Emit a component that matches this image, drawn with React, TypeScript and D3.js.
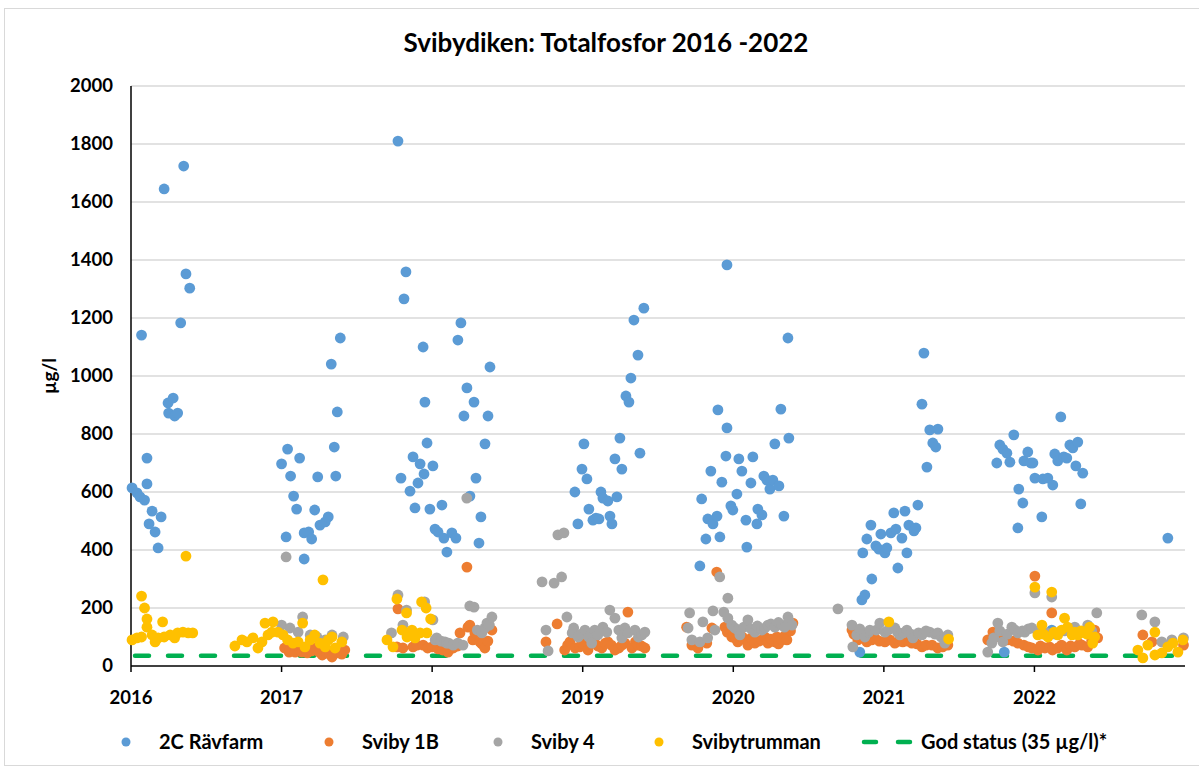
import * as d3 from "d3";

type Pt = [number, number];

const years = [2016, 2017, 2018, 2019, 2020, 2021, 2022];
const yTicks = [0, 200, 400, 600, 800, 1000, 1200, 1400, 1600, 1800, 2000];
const godStatus = 35;

// [decimal year, µg/l]
const ravfarm: Pt[] = [
  [2016.007, 614], [2016.04, 597], [2016.06, 583], [2016.07, 1141], [2016.09, 572], [2016.106, 717],
  [2016.106, 628], [2016.12, 490], [2016.14, 534], [2016.16, 462], [2016.18, 407], [2016.2, 514],
  [2016.22, 1645], [2016.246, 907], [2016.25, 872], [2016.28, 924], [2016.29, 862], [2016.31, 872],
  [2016.33, 1183], [2016.35, 1724], [2016.365, 1352], [2016.39, 1303],
  [2017.0, 697], [2017.03, 445], [2017.04, 748], [2017.06, 655], [2017.08, 586], [2017.1, 541],
  [2017.12, 717], [2017.15, 459], [2017.15, 369], [2017.18, 462], [2017.2, 438], [2017.22, 538],
  [2017.24, 652], [2017.255, 486], [2017.29, 497], [2017.31, 514], [2017.33, 1041], [2017.35, 755],
  [2017.36, 655], [2017.37, 876], [2017.39, 1131],
  [2017.773, 1810], [2017.793, 648], [2017.813, 1266], [2017.826, 1359], [2017.853, 603], [2017.873, 721],
  [2017.886, 545], [2017.906, 631], [2017.92, 697], [2017.94, 1100], [2017.946, 662], [2017.952, 910],
  [2017.966, 769], [2017.985, 541], [2018.005, 690], [2018.019, 472], [2018.039, 462], [2018.065, 555],
  [2018.078, 441], [2018.098, 393], [2018.131, 459], [2018.158, 441], [2018.171, 1124], [2018.191, 1183],
  [2018.211, 862], [2018.231, 959], [2018.251, 586], [2018.278, 910], [2018.291, 648], [2018.311, 424],
  [2018.324, 514], [2018.351, 766], [2018.371, 862], [2018.384, 1031],
  [2018.948, 600], [2018.968, 490], [2018.995, 679], [2019.008, 766], [2019.028, 645], [2019.041, 541],
  [2019.068, 503], [2019.088, 510], [2019.108, 507], [2019.121, 600], [2019.134, 579], [2019.167, 569],
  [2019.181, 517], [2019.194, 490], [2019.214, 714], [2019.227, 583], [2019.247, 786], [2019.26, 679],
  [2019.287, 931], [2019.307, 910], [2019.32, 993], [2019.34, 1193], [2019.367, 1072], [2019.38, 734],
  [2019.406, 1234],
  [2019.778, 345], [2019.79, 576], [2019.818, 438], [2019.831, 507], [2019.851, 672], [2019.865, 490],
  [2019.892, 517], [2019.898, 883], [2019.911, 445], [2019.924, 634], [2019.951, 724], [2019.958, 1383],
  [2019.958, 821], [2019.984, 552], [2019.997, 538], [2020.024, 593], [2020.037, 714], [2020.057, 672],
  [2020.084, 503], [2020.09, 410], [2020.117, 631], [2020.13, 721], [2020.157, 490], [2020.163, 541],
  [2020.19, 521], [2020.203, 655], [2020.223, 641], [2020.243, 610], [2020.263, 641], [2020.276, 766],
  [2020.303, 621], [2020.316, 886], [2020.336, 517], [2020.363, 1131], [2020.369, 786],
  [2020.84, 48], [2020.854, 228], [2020.874, 245], [2020.86, 390], [2020.914, 486], [2020.92, 300],
  [2020.887, 438], [2020.947, 414], [2020.967, 403], [2020.98, 455], [2021.007, 390], [2021.02, 407],
  [2021.047, 459], [2021.066, 528], [2021.08, 472], [2021.093, 338], [2021.12, 441], [2021.14, 534],
  [2021.153, 390], [2021.166, 486], [2021.2, 466], [2021.213, 476], [2021.226, 555], [2021.253, 903],
  [2021.266, 1079], [2021.286, 686], [2021.305, 814], [2021.325, 769], [2021.345, 755], [2021.359, 817],
  [2021.75, 700], [2021.77, 762], [2021.79, 748], [2021.8, 48], [2021.817, 734], [2021.837, 703],
  [2021.863, 797], [2021.89, 476], [2021.896, 610], [2021.923, 562], [2021.93, 707], [2021.956, 738],
  [2021.976, 700], [2021.99, 700], [2022.003, 648], [2022.049, 514], [2022.056, 645], [2022.089, 648],
  [2022.115, 124], [2022.122, 624], [2022.135, 731], [2022.155, 707], [2022.175, 859], [2022.195, 721],
  [2022.215, 717], [2022.235, 762], [2022.255, 752], [2022.275, 690], [2022.288, 772], [2022.308, 559],
  [2022.321, 665], [2022.886, 441],
];

const sviby1b: Pt[] = [
  [2017.02, 62], [2017.05, 48], [2017.056, 55], [2017.09, 48], [2017.12, 55], [2017.135, 48],
  [2017.17, 45], [2017.2, 52], [2017.22, 62], [2017.25, 48], [2017.27, 38], [2017.3, 45],
  [2017.32, 41], [2017.335, 31], [2017.375, 45], [2017.4, 41], [2017.42, 55],
  [2017.773, 197], [2017.766, 66], [2017.806, 62], [2017.873, 66], [2017.9, 72], [2017.94, 72],
  [2017.97, 62], [2018.0, 66], [2018.04, 59], [2018.07, 55], [2018.105, 48], [2018.12, 59],
  [2018.14, 62], [2018.17, 69], [2018.185, 114], [2018.231, 341], [2018.238, 134], [2018.25, 141],
  [2018.27, 90], [2018.284, 114], [2018.317, 83], [2018.33, 76], [2018.35, 62], [2018.37, 86],
  [2018.397, 124],
  [2018.756, 83], [2018.83, 145], [2018.88, 55], [2018.9, 72], [2018.915, 83], [2018.95, 62],
  [2018.98, 66], [2018.995, 79], [2019.035, 55], [2019.05, 76], [2019.08, 97], [2019.1, 69],
  [2019.127, 62], [2019.15, 79], [2019.167, 83], [2019.19, 72], [2019.214, 55], [2019.24, 62],
  [2019.26, 72], [2019.28, 79], [2019.3, 186], [2019.327, 62], [2019.35, 83], [2019.367, 72],
  [2019.39, 69], [2019.413, 62],
  [2019.69, 134], [2019.725, 72], [2019.765, 62], [2019.824, 79], [2019.858, 131], [2019.89, 324],
  [2019.944, 134], [2019.96, 117], [2019.99, 100], [2020.0, 110], [2020.02, 93], [2020.03, 83],
  [2020.06, 100], [2020.08, 90], [2020.097, 72], [2020.12, 97], [2020.143, 79], [2020.17, 86],
  [2020.19, 90], [2020.21, 100], [2020.23, 79], [2020.25, 93], [2020.276, 83], [2020.29, 100],
  [2020.3, 76], [2020.323, 90], [2020.34, 103], [2020.356, 90], [2020.38, 121], [2020.396, 148],
  [2020.788, 124], [2020.8, 110], [2020.827, 90], [2020.86, 97], [2020.887, 83], [2020.92, 90],
  [2020.94, 97], [2020.97, 86], [2021.007, 83], [2021.04, 90], [2021.073, 79], [2021.1, 86],
  [2021.126, 83], [2021.16, 86], [2021.186, 79], [2021.22, 76], [2021.253, 66], [2021.28, 72],
  [2021.32, 72], [2021.358, 62], [2021.39, 66], [2021.425, 72],
  [2021.69, 90], [2021.724, 117], [2021.74, 100], [2021.757, 117], [2021.78, 110], [2021.823, 90],
  [2021.86, 86], [2021.89, 79], [2021.93, 72], [2021.96, 66], [2021.983, 62], [2022.003, 310],
  [2022.023, 55], [2022.04, 69], [2022.07, 62], [2022.1, 66], [2022.115, 183], [2022.12, 55],
  [2022.155, 62], [2022.18, 72], [2022.215, 55], [2022.24, 69], [2022.268, 66], [2022.3, 76],
  [2022.315, 72], [2022.354, 66], [2022.38, 86], [2022.4, 124], [2022.42, 97],
  [2022.72, 107], [2022.78, 83], [2022.99, 72],
];

const sviby4: Pt[] = [
  [2017.0, 141], [2017.03, 376], [2017.056, 131], [2017.11, 117], [2017.14, 169], [2017.19, 107],
  [2017.235, 100], [2017.29, 90], [2017.335, 107], [2017.41, 100],
  [2017.73, 114], [2017.773, 245], [2017.806, 141], [2017.83, 193], [2017.95, 221], [2018.005, 159],
  [2018.02, 90], [2018.03, 97], [2018.06, 86], [2018.085, 83], [2018.098, 79], [2018.11, 79],
  [2018.14, 72], [2018.17, 79], [2018.205, 72], [2018.23, 579], [2018.25, 207], [2018.278, 203],
  [2018.3, 124], [2018.33, 114], [2018.35, 131], [2018.364, 148], [2018.38, 141], [2018.397, 169],
  [2018.73, 290], [2018.756, 124], [2018.77, 52], [2018.81, 286], [2018.86, 307], [2018.835, 452],
  [2018.875, 459], [2018.895, 169], [2018.93, 114], [2018.94, 131], [2018.97, 100], [2018.99, 110],
  [2019.015, 124], [2019.04, 100], [2019.06, 79], [2019.08, 124], [2019.1, 107], [2019.134, 134],
  [2019.16, 117], [2019.18, 193], [2019.214, 165], [2019.24, 124], [2019.26, 97], [2019.28, 131],
  [2019.3, 114], [2019.347, 124], [2019.37, 100], [2019.393, 107], [2019.413, 117],
  [2019.7, 131], [2019.71, 183], [2019.725, 90], [2019.778, 83], [2019.798, 152], [2019.83, 97],
  [2019.865, 190], [2019.878, 124], [2019.91, 307], [2019.937, 186], [2019.964, 234], [2019.964, 165],
  [2019.99, 141], [2020.01, 131], [2020.03, 124], [2020.044, 107], [2020.07, 134], [2020.097, 159],
  [2020.12, 128], [2020.143, 117], [2020.16, 138], [2020.19, 124], [2020.21, 131], [2020.23, 141],
  [2020.25, 145], [2020.276, 134], [2020.3, 150], [2020.323, 141], [2020.34, 134], [2020.363, 169],
  [2020.37, 155], [2020.39, 141],
  [2020.695, 197], [2020.788, 141], [2020.794, 66], [2020.82, 107], [2020.84, 128], [2020.874, 100],
  [2020.9, 117], [2020.907, 124], [2020.95, 124], [2020.973, 148], [2021.007, 117], [2021.03, 124],
  [2021.073, 131], [2021.09, 117], [2021.106, 107], [2021.13, 114], [2021.153, 124], [2021.18, 110],
  [2021.193, 97], [2021.23, 114], [2021.253, 107], [2021.28, 121], [2021.305, 117], [2021.34, 110],
  [2021.358, 114], [2021.38, 100], [2021.4, 93], [2021.405, 79], [2021.425, 107],
  [2021.69, 48], [2021.717, 79], [2021.73, 97], [2021.757, 148], [2021.77, 121], [2021.79, 83],
  [2021.82, 110], [2021.85, 134], [2021.87, 124], [2021.89, 114], [2021.92, 121], [2021.936, 117],
  [2021.96, 128], [2021.983, 131], [2022.003, 252], [2022.03, 117], [2022.08, 114], [2022.115, 238],
  [2022.14, 110], [2022.2, 121], [2022.24, 128], [2022.268, 134], [2022.3, 117], [2022.354, 141],
  [2022.38, 121], [2022.414, 183],
  [2022.713, 176], [2022.8, 152], [2022.846, 83], [2022.913, 90], [2022.99, 97],
];

const svibytrumman: Pt[] = [
  [2016.007, 90], [2016.04, 97], [2016.07, 100], [2016.07, 241], [2016.09, 200], [2016.106, 162],
  [2016.106, 134], [2016.14, 107], [2016.16, 83], [2016.18, 97], [2016.21, 152], [2016.22, 100],
  [2016.26, 107], [2016.29, 97], [2016.31, 114], [2016.345, 117], [2016.365, 379], [2016.38, 114],
  [2016.41, 114],
  [2016.69, 69], [2016.737, 90], [2016.77, 83], [2016.81, 97], [2016.843, 62], [2016.87, 83],
  [2016.89, 148], [2016.91, 107], [2016.943, 152], [2016.936, 117], [2016.976, 117], [2017.01, 107],
  [2017.04, 90], [2017.076, 79], [2017.11, 83], [2017.14, 148], [2017.155, 66], [2017.19, 90],
  [2017.22, 107], [2017.255, 79], [2017.275, 297], [2017.29, 66], [2017.31, 90], [2017.335, 100],
  [2017.355, 62], [2017.4, 83],
  [2017.7, 90], [2017.74, 66], [2017.766, 231], [2017.8, 124], [2017.83, 183], [2017.833, 100],
  [2017.866, 124], [2017.886, 97], [2017.92, 114], [2017.93, 221], [2017.96, 200], [2017.965, 114],
  [2017.99, 162],
  [2021.033, 152], [2021.43, 93],
  [2022.003, 272], [2022.023, 107], [2022.05, 141], [2022.06, 110], [2022.09, 100], [2022.115, 255],
  [2022.13, 117], [2022.155, 107], [2022.18, 124], [2022.2, 165], [2022.22, 134], [2022.25, 107],
  [2022.268, 117], [2022.288, 107], [2022.31, 121], [2022.334, 114], [2022.35, 110], [2022.367, 134],
  [2022.387, 79], [2022.4, 100],
  [2022.687, 55], [2022.72, 28], [2022.753, 72], [2022.8, 117], [2022.8, 38], [2022.846, 45],
  [2022.886, 66], [2022.92, 79], [2022.953, 48], [2022.986, 90],
];

const series = [
  { name: "2C Rävfarm", color: "#5B9BD5", data: ravfarm },
  { name: "Sviby 1B", color: "#ED7D31", data: sviby1b },
  { name: "Sviby 4", color: "#A5A5A5", data: sviby4 },
  { name: "Svibytrumman", color: "#FFC000", data: svibytrumman },
];

const legendX = [126, 329, 498, 659];
const font = "Lato, 'Open Sans', sans-serif";

export default function App() {
  const width = 1199;
  const height = 769;
  const margin = { top: 86, right: 14, bottom: 103, left: 131 };

  const x = d3.scaleLinear().domain([2016, 2023]).range([margin.left, width - margin.right]);
  const y = d3.scaleLinear().domain([0, 2000]).range([height - margin.bottom, margin.top]);

  return (
    <div style={{ position: "absolute", left: 0, top: 0 }}>
      <svg width={width} height={height} style={{ display: "block", fontFamily: font }}>
        <rect x={0} y={0} width={width} height={height} fill="#fff" />
        <rect x={4.5} y={8.5} width={width + 10} height={height - 12} fill="none" stroke="#d9d9d9" />

        <text x={606} y={52} textAnchor="middle" fontSize={26} fontWeight="bold">
          Svibydiken: Totalfosfor 2016 -2022
        </text>

        {/* grid */}
        {yTicks.map((t) => (
          <g key={t}>
            {t > 0 && (
              <line x1={x(2016)} x2={x(2023)} y1={y(t)} y2={y(t)} stroke="#d9d9d9" strokeWidth={1.3} />
            )}
            <text x={113} y={y(t)} dy="0.35em" textAnchor="end" fontSize={18.5} fontWeight="bold">
              {t}
            </text>
          </g>
        ))}

        <text
          transform={`translate(56,${y(1000)}) rotate(-90)`}
          textAnchor="middle"
          fontSize={19}
          fontWeight="bold"
        >
          µg/l
        </text>

        {/* axes */}
        <line x1={x(2016)} x2={x(2016)} y1={y(2000)} y2={y(0)} stroke="#000" strokeWidth={1.5} />
        <line x1={x(2016)} x2={x(2023)} y1={y(0)} y2={y(0)} stroke="#000" strokeWidth={1.5} />
        {years.map((yr) => (
          <g key={yr}>
            <line x1={x(yr)} x2={x(yr)} y1={y(0)} y2={y(0) + 6} stroke="#000" strokeWidth={1.5} />
            <text x={x(yr)} y={704} textAnchor="middle" fontSize={18.5} fontWeight="bold">
              {yr}
            </text>
          </g>
        ))}

        {/* good status line */}
        <line
          x1={x(2016) + 4}
          x2={x(2023)}
          y1={y(godStatus)}
          y2={y(godStatus)}
          stroke="#00B050"
          strokeWidth={4.5}
          strokeLinecap="round"
          strokeDasharray="14,19"
        />

        {/* points */}
        {series.map((s) => (
          <g key={s.name}>
            {s.data.map((d, i) => (
              <circle key={i} cx={x(d[0])} cy={y(d[1])} r={5.4} fill={s.color} />
            ))}
          </g>
        ))}

        {/* legend */}
        {series.map((s, i) => (
          <g key={s.name}>
            <circle cx={legendX[i]} cy={742} r={4.5} fill={s.color} />
            <text x={legendX[i] + 33} y={742} dy="0.35em" fontSize={20} fontWeight="bold">
              {s.name}
            </text>
          </g>
        ))}
        <line
          x1={864}
          x2={910}
          y1={742}
          y2={742}
          stroke="#00B050"
          strokeWidth={4.5}
          strokeLinecap="round"
          strokeDasharray="12,22"
        />
        <text x={921} y={742} dy="0.35em" fontSize={20} fontWeight="bold">
          God status (35 µg/l)*
        </text>
      </svg>
    </div>
  );
}
